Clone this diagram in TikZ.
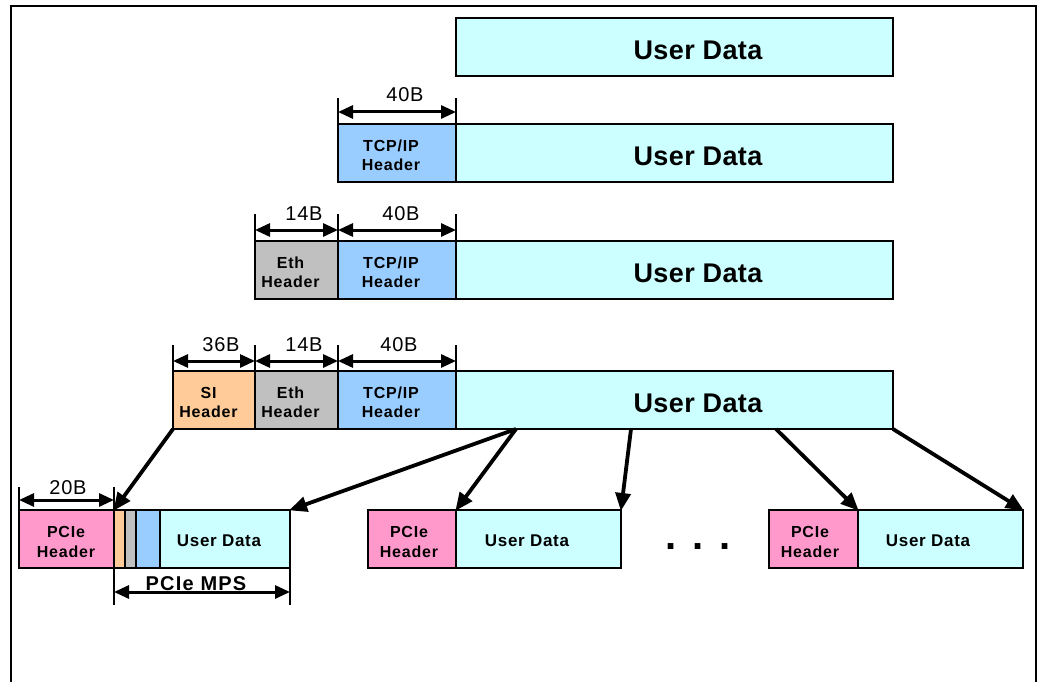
\documentclass[tikz,border=0pt]{standalone}
\usepackage{fontspec}
\setmainfont{Liberation Sans}
\newfontfamily\fBig[LetterSpace=1.5]{Liberation Sans}
\newfontfamily\fHd[LetterSpace=5]{Liberation Sans}
\newfontfamily\fSm[LetterSpace=4]{Liberation Sans}
\newfontfamily\fDim[LetterSpace=4]{Liberation Sans}
\newfontfamily\fMps[LetterSpace=6]{Liberation Sans}
\usetikzlibrary{arrows.meta}
\definecolor{udc}{HTML}{CCFFFF}
\definecolor{tcpc}{HTML}{99CCFF}
\definecolor{ethc}{HTML}{C0C0C0}
\definecolor{sic}{HTML}{FFCC99}
\definecolor{pcic}{HTML}{FF99CC}
\tikzset{
  box/.style={draw=black, line width=1.3pt, inner sep=0pt, outer sep=0pt, anchor=north west, minimum height=58pt},
  bigtxt/.style={inner sep=0pt, font=\fBig\fontsize{27}{30}\selectfont\bfseries},
  hdtxt/.style={inner sep=0pt, align=center, font=\fHd\fontsize{16}{19.5}\selectfont\bfseries},
  smtxt/.style={inner sep=0pt, font=\fSm\fontsize{17}{19}\selectfont\bfseries},
  dimlbl/.style={inner sep=0pt, anchor=base, font=\fDim\fontsize{20}{22}\selectfont},
  dim/.style={line width=3pt, {Triangle[length=15pt,width=13pt]}-{Triangle[length=15pt,width=13pt]}},
  tick/.style={line width=2.2pt},
  conn/.style={line width=3.8pt, -{Triangle[length=18pt,width=15pt]}, shorten >=-1pt},
}
\begin{document}
\begin{tikzpicture}[x=1pt,y=-1pt]
\useasboundingbox (0,0) rectangle (1039,682);
% frame
\draw[line width=2pt] (11,690) -- (11,6) -- (1036,6) -- (1036,690);

% row 1
\node[box, fill=udc, minimum width=437pt] (ud1) at (456,18) {};
\node[bigtxt] (t1) at (698,50) {User Data};

% row 2
\node[box, fill=tcpc, minimum width=118pt] (tcp2) at (338,124) {};
\node[box, fill=udc, minimum width=437pt] (ud2) at (456,124) {};
\node[hdtxt] (h2) at (391,155.5) {TCP/IP\\Header};
\node[bigtxt] (t2) at (698,156) {User Data};

% row 3
\node[box, fill=ethc, minimum width=83pt] (eth3) at (255,241) {};
\node[box, fill=tcpc, minimum width=118pt] (tcp3) at (338,241) {};
\node[box, fill=udc, minimum width=437pt] (ud3) at (456,241) {};
\node[hdtxt] (h3a) at (290.5,272.5) {Eth\\Header};
\node[hdtxt] (h3b) at (391,272.5) {TCP/IP\\Header};
\node[bigtxt] (t3) at (698,273) {User Data};

% row 4
\node[box, fill=sic, minimum width=82pt] (si4) at (173,371) {};
\node[box, fill=ethc, minimum width=83pt] (eth4) at (255,371) {};
\node[box, fill=tcpc, minimum width=118pt] (tcp4) at (338,371) {};
\node[box, fill=udc, minimum width=437pt] (ud4) at (456,371) {};
\node[hdtxt] (h4a) at (208.5,402.5) {SI\\Header};
\node[hdtxt] (h4b) at (290.5,402.5) {Eth\\Header};
\node[hdtxt] (h4c) at (391,402.5) {TCP/IP\\Header};
\node[bigtxt] (t4) at (698,403) {User Data};

% bottom packet 1
\node[box, fill=pcic, minimum width=95pt] (pc1) at (19,510) {};
\node[box, fill=sic, minimum width=11pt] (or1) at (114,510) {};
\node[box, fill=ethc, minimum width=11pt] (gr1) at (125,510) {};
\node[box, fill=tcpc, minimum width=24pt] (bl1) at (136,510) {};
\node[box, fill=udc, minimum width=130pt] (ub1) at (160,510) {};
\node[hdtxt] (hp1) at (66,542) {PCIe\\Header};
\node[smtxt] (s1) at (219,541) {User Data};

% bottom packet 2
\node[box, fill=pcic, minimum width=88pt] (pc2) at (368,510) {};
\node[box, fill=udc, minimum width=165pt] (ub2) at (456,510) {};
\node[hdtxt] (hp2) at (409,542) {PCIe\\Header};
\node[smtxt] (s2) at (527,541) {User Data};

% bottom packet 3
\node[box, fill=pcic, minimum width=89pt] (pc3) at (769,510) {};
\node[box, fill=udc, minimum width=165pt] (ub3) at (858,510) {};
\node[hdtxt] (hp3) at (810,542) {PCIe\\Header};
\node[smtxt] (s3) at (928,541) {User Data};

\node[inner sep=0pt, anchor=base, font=\fontsize{40}{40}\selectfont\bfseries] (dots) at (698,549) {.\hspace{16pt}.\hspace{16pt}.};

% dimension lines row 2
\draw[tick] (tcp2.north west) -- ++(0,-26);
\draw[tick] (tcp2.north east) -- ++(0,-26);
\draw[dim] ([yshift=12pt]tcp2.north west) -- ([yshift=12pt]tcp2.north east);
\node[dimlbl] (l2) at (405,102) {40B};

% row 3
\draw[tick] (eth3.north west) -- ++(0,-27);
\draw[tick] (tcp3.north west) -- ++(0,-27);
\draw[tick] (tcp3.north east) -- ++(0,-27);
\draw[dim] ([yshift=11pt]eth3.north west) -- ([yshift=11pt]eth3.north east);
\draw[dim] ([yshift=11pt]tcp3.north west) -- ([yshift=11pt]tcp3.north east);
\node[dimlbl] (l3a) at (304,220) {14B};
\node[dimlbl] (l3b) at (401,220) {40B};

% row 4
\draw[tick] (si4.north west) -- ++(0,-26);
\draw[tick] (eth4.north west) -- ++(0,-26);
\draw[tick] (tcp4.north west) -- ++(0,-26);
\draw[tick] (tcp4.north east) -- ++(0,-26);
\draw[dim] ([yshift=10pt]si4.north west) -- ([yshift=10pt]si4.north east);
\draw[dim] ([yshift=10pt]eth4.north west) -- ([yshift=10pt]eth4.north east);
\draw[dim] ([yshift=10pt]tcp4.north west) -- ([yshift=10pt]tcp4.north east);
\node[dimlbl] (l4a) at (221,351) {36B};
\node[dimlbl] (l4b) at (304,351) {14B};
\node[dimlbl] (l4c) at (399,351) {40B};

% 20B
\draw[tick] (pc1.north west) -- ++(0,-23);
\draw[tick] (pc1.north east) -- ++(0,-23);
\draw[dim] ([yshift=10pt]pc1.north west) -- ([yshift=10pt]pc1.north east);
\node[dimlbl] (l5) at (68,494) {20B};

% PCIe MPS
\draw[tick] (or1.south west) -- ++(0,37);
\draw[tick] (ub1.south east) -- ++(0,37);
\draw[dim] ([yshift=-24pt]or1.south west) -- ([yshift=-24pt]ub1.south east);
\node[inner sep=0pt, anchor=base, font=\fMps\fontsize{20}{22}\selectfont\bfseries] (mps) at (196,590) {PCIe MPS};

% connectors
\coordinate (p1) at (516,429);
\coordinate (p2) at (631,429);
\coordinate (p3) at (776,429);
\draw[conn] (si4.south west) -- (or1.north west);
\draw[conn] (p1) -- (ub1.north east);
\draw[conn] (p1) -- (ub2.north west);
\draw[conn] (p2) -- (ub2.north east);
\draw[conn] (p3) -- (ub3.north west);
\draw[conn] (ud4.south east) -- (ub3.north east);
\end{tikzpicture}
\end{document}
